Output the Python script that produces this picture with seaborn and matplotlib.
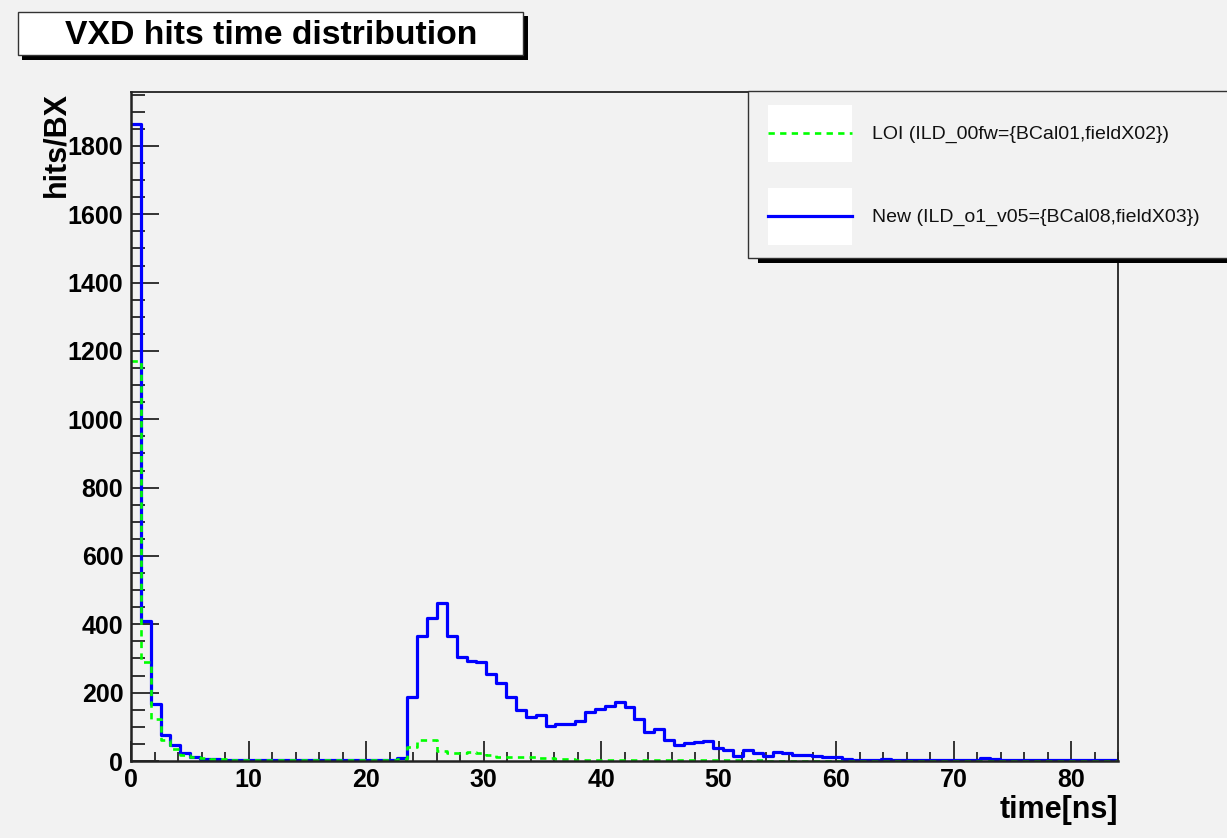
import numpy as np
import pandas as pd
import matplotlib
matplotlib.use("Agg")
import matplotlib.pyplot as plt
from matplotlib.patches import Rectangle
from matplotlib.lines import Line2D
from matplotlib import font_manager as fm
import seaborn as sns

# ---------------- data ----------------
time_range = (0.0, 84.0)
n_bins = 100

new_hits = [1865, 410, 166, 77, 46, 22, 11, 7, 5, 4,
            3, 3, 2, 3, 2, 2, 3, 2, 2, 2,
            3, 2, 2, 3, 2, 3, 4, 10, 187, 367,
            419, 463, 367, 304, 294, 291, 255, 228, 187, 148,
            130, 136, 101, 107, 107, 117, 143, 152, 162, 172,
            157, 123, 84, 94, 61, 46, 52, 57, 58, 38,
            32, 15, 31, 24, 16, 27, 22, 19, 18, 16,
            13, 11, 5, 4, 3, 4, 5, 3, 4, 3,
            3, 4, 3, 2, 3, 4, 8, 6, 3, 2,
            3, 3, 2, 3, 2, 3, 2, 2, 3, 2]

loi_hits = [1170, 290, 122, 62, 34, 19, 11, 8, 6, 5,
            4, 4, 3, 3, 3, 3, 2, 3, 2, 2,
            2, 2, 2, 2, 2, 2, 3, 5, 40, 60,
            62, 29, 23, 23, 25, 23, 19, 11, 11, 12,
            11, 9, 8, 5, 5, 4, 4, 3, 4, 3,
            3, 3, 2, 3, 2, 2, 2, 2, 2, 2,
            2, 2, 1, 2, 1, 1, 1, 1, 1, 1,
            1, 1, 1, 1, 1, 1, 1, 1, 1, 1,
            1, 1, 1, 1, 1, 1, 1, 1, 1, 1,
            1, 1, 1, 1, 1, 1, 1, 1, 1, 1]

series_labels = ["LOI (ILD_00fw={BCal01,fieldX02})",
                 "New (ILD_o1_v05={BCal08,fieldX03})"]
title_text = "VXD hits time distribution"
xlabel_text = "time[ns]"
ylabel_text = "hits/BX"
x_major = [0, 10, 20, 30, 40, 50, 60, 70, 80]
y_major = [0, 200, 400, 600, 800, 1000, 1200, 1400, 1600, 1800]

# ---------------- fonts ----------------
names = {f.name for f in fm.fontManager.ttflist}
if "Liberation Sans Narrow" in names:
    axfont = "Liberation Sans Narrow"
    tick_fs, lab_fs = 21, 26
else:
    axfont = "Liberation Sans"
    tick_fs, lab_fs = 18, 22

plt.rcParams["font.family"] = ["Liberation Sans", "DejaVu Sans"]

W, H = 1227, 838
BG = "#f2f2f2"
fig = plt.figure(figsize=(W / 100, H / 100), dpi=100, facecolor=BG)

def px_rect(x0, y0, x1, y1):
    return (x0 / W, 1 - y1 / H), (x1 - x0) / W, (y1 - y0) / H

ax_l, ax_r, ax_t, ax_b = 131, 1118, 92, 761
ax = fig.add_axes([ax_l / W, 1 - ax_b / H, (ax_r - ax_l) / W, (ax_b - ax_t) / H])
ax.set_facecolor(BG)

bin_width = (time_range[1] - time_range[0]) / n_bins
centers = time_range[0] + bin_width * (np.arange(n_bins) + 0.5)
df_new = pd.DataFrame({"time": centers, "hits": new_hits})
df_loi = pd.DataFrame({"time": centers, "hits": loi_hits})

sns.histplot(data=df_new, x="time", weights="hits",
             bins=n_bins, binrange=time_range, element="step", fill=False,
             color="#0000ff", linewidth=2.3, ax=ax)
sns.histplot(data=df_loi, x="time", weights="hits",
             bins=n_bins, binrange=time_range, element="step", fill=False,
             color="#00ff00", linewidth=1.9, linestyle=(0, (2.4, 2.0)), ax=ax)

ax.set_xlim(time_range)
ax.set_ylim(0, 1958)
ax.set_xlabel("")
ax.set_ylabel("")

ax.set_xticks(x_major)
ax.set_xticks(np.arange(0, 85, 2), minor=True)
ax.set_yticks(y_major)
ax.set_yticks(np.arange(0, 1958, 50), minor=True)
ax.set_xticklabels([str(v) for v in x_major])
ax.set_yticklabels([str(v) for v in y_major])
for lab in ax.get_xticklabels() + ax.get_yticklabels():
    lab.set_fontfamily(axfont)
    lab.set_fontweight("bold")
    lab.set_fontsize(tick_fs)

ax.tick_params(axis="x", which="major", direction="in", length=14.5, width=1.4,
               color="#333333", pad=5, top=False)
ax.tick_params(axis="x", which="minor", direction="in", length=6.5, width=1.4,
               color="#333333", top=False)
ax.tick_params(axis="y", which="major", direction="in", length=20, width=1.4,
               color="#333333", pad=5.5, right=False)
ax.tick_params(axis="y", which="minor", direction="in", length=10, width=1.4,
               color="#333333", right=False)
for s in ["left", "bottom"]:
    ax.spines[s].set_linewidth(1.8)
    ax.spines[s].set_color("#222222")
for s in ["top", "right"]:
    ax.spines[s].set_linewidth(1.3)
    ax.spines[s].set_color("#222222")

# axis titles
fig.text(ax_r / W, 1 - 810 / H, xlabel_text, ha="right", va="center",
         fontfamily=axfont, fontweight="bold", fontsize=lab_fs)
fig.text(56 / W, 1 - ax_t / H, ylabel_text, rotation=90, rotation_mode="anchor",
         ha="right", va="center", fontfamily=axfont, fontweight="bold",
         fontsize=lab_fs)

# title box with shadow
xy, w, h = px_rect(22, 16, 528, 60)
fig.add_artist(Rectangle(xy, w, h, transform=fig.transFigure,
                         facecolor="black", edgecolor="none", zorder=5))
xy, w, h = px_rect(18, 12, 523, 55)
fig.add_artist(Rectangle(xy, w, h, transform=fig.transFigure,
                         facecolor="white", edgecolor="#333333", lw=1.0, zorder=6))
fig.text(271 / W, 1 - 35 / H, title_text, ha="center", va="center",
         fontweight="bold", fontsize=24.3, zorder=7)

# legend box with shadow
xy, w, h = px_rect(758, 96, 1260, 263)
fig.add_artist(Rectangle(xy, w, h, transform=fig.transFigure,
                         facecolor="black", edgecolor="none", zorder=5))
xy, w, h = px_rect(748, 91, 1250, 258)
fig.add_artist(Rectangle(xy, w, h, transform=fig.transFigure,
                         facecolor=BG, edgecolor="#333333", lw=1.0, zorder=6))
entries = [(series_labels[0], "#00ff00", (0, (2.4, 2.0)), 1.9, 105, 162, 133),
           (series_labels[1], "#0000ff", "-", 2.3, 188, 245, 216)]
for label, col, ls, lw, yb0, yb1, yl in entries:
    xy, w, h = px_rect(768, yb0, 852, yb1)
    fig.add_artist(Rectangle(xy, w, h, transform=fig.transFigure,
                             facecolor="white", edgecolor="none", zorder=7))
    fig.add_artist(Line2D([768 / W, 852 / W], [1 - yl / H, 1 - yl / H],
                          transform=fig.transFigure, color=col, lw=lw,
                          linestyle=ls, zorder=8))
    fig.text(872 / W, 1 - (yl + 1) / H, label, ha="left", va="center",
             fontsize=14, zorder=8, color="#111111")

fig.savefig("out.png", dpi=100, facecolor=BG)
